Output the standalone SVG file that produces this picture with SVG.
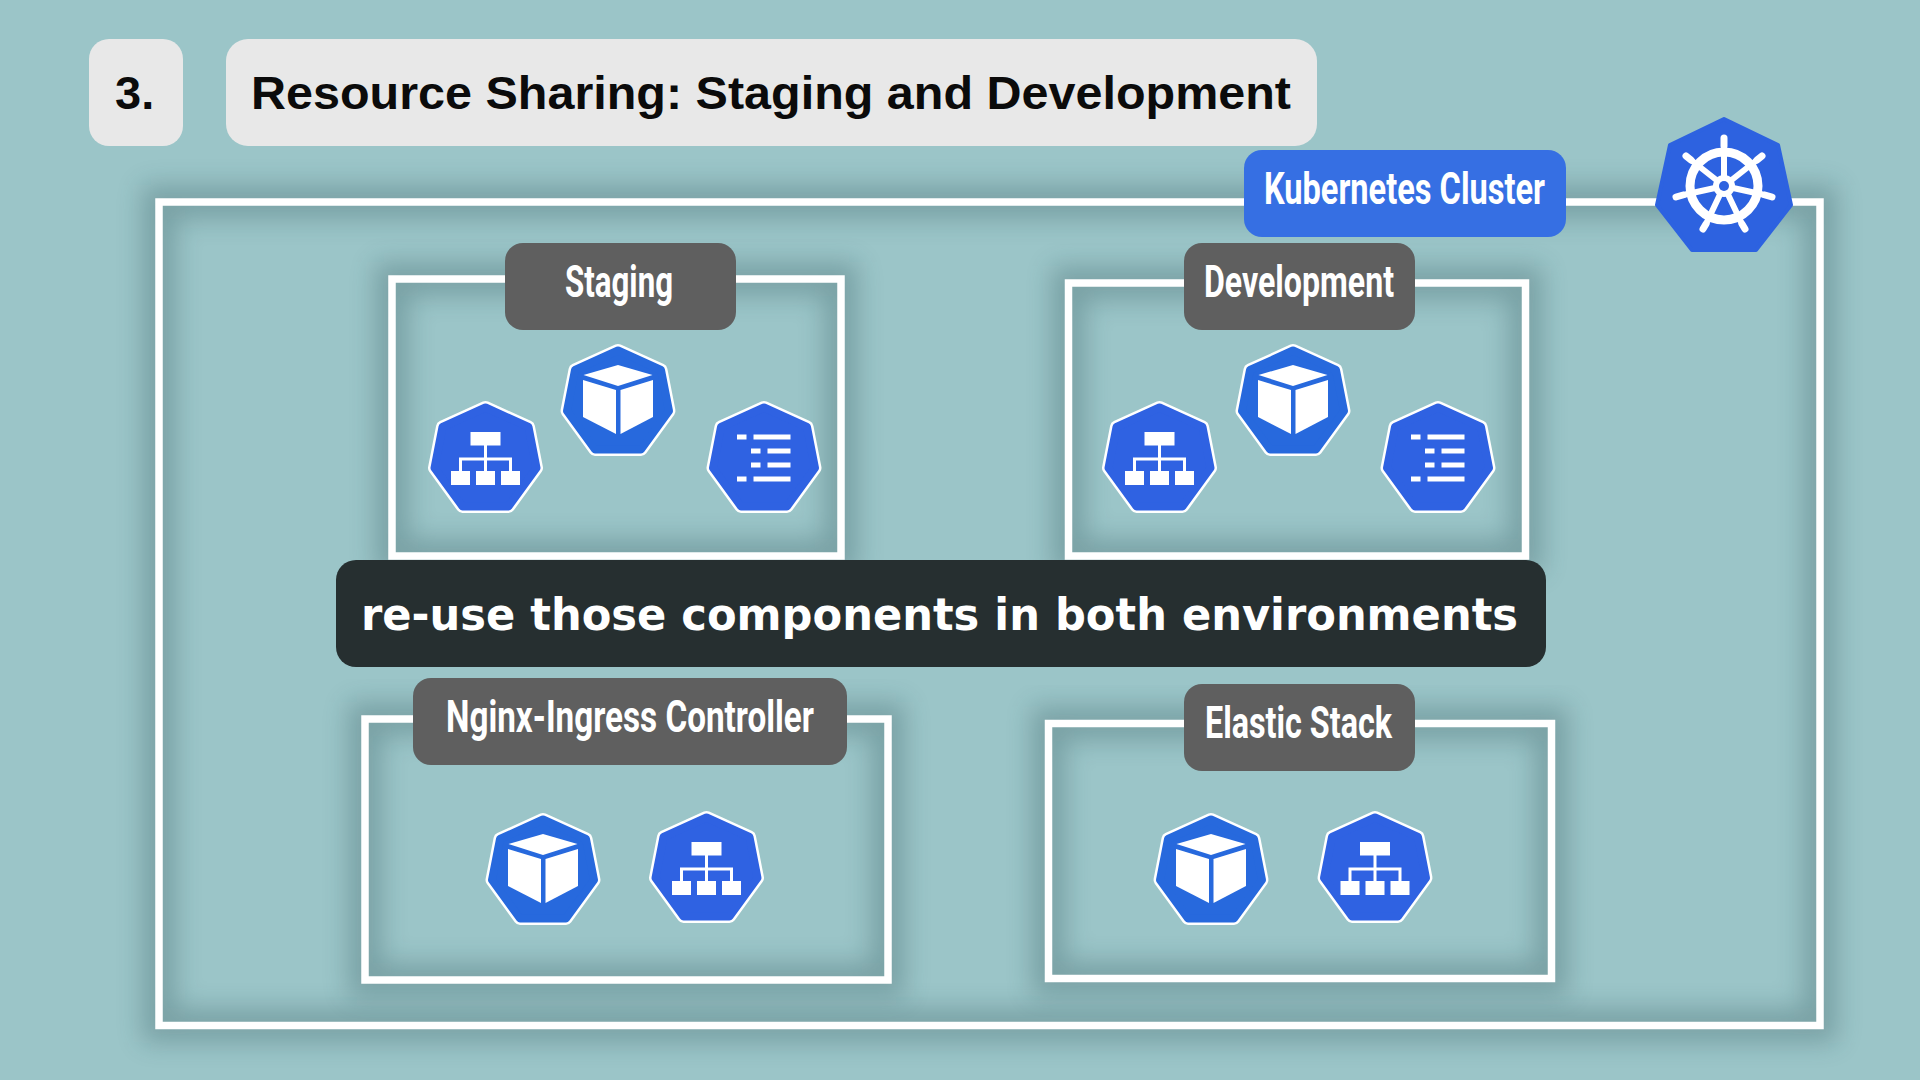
<svg xmlns="http://www.w3.org/2000/svg" width="1920" height="1080" viewBox="0 0 1920 1080">
<style>
.frame{fill:none;stroke:#fff;stroke-width:7.5}
.glow{fill:none;stroke:#16383d;stroke-width:34;opacity:.25;filter:url(#blur)}
.tag{fill:#5f5f5f}
.lbl{font-family:"Roboto","Liberation Sans",sans-serif;font-weight:700;font-size:45px;fill:#fff;text-anchor:start}
.head{font-family:"Liberation Sans",Arial,sans-serif;font-weight:700;font-size:47px;fill:#0b0b0b}
.w{fill:#fff}
.ring{stroke:#fff;stroke-width:13;stroke-linejoin:round;fill:#fff}
.core{stroke-width:8;stroke-linejoin:round}
</style>
<defs>
<filter id="blur" x="-15%" y="-15%" width="130%" height="130%"><feGaussianBlur stdDeviation="13"/></filter>
<polygon id="hept" points="0,6.500 43,26 51,67 23,105.500 -23,105.500 -51,67 -43,26"/>
<g id="cube">
<use href="#hept" class="ring"/>
<use href="#hept" class="core" fill="#2769dd" stroke="#2769dd"/>
<polygon class="w" points="0,21 34.500,31 0,42 -34.500,31"/>
<polygon class="w" points="-35,36 -2,46 -2,90 -35,73"/>
<polygon class="w" points="35,36 2.500,46 2.500,90 35,73"/>
</g>
<g id="svc">
<use href="#hept" class="ring"/>
<use href="#hept" class="core" fill="#2f62e2" stroke="#2f62e2"/>
<rect class="w" x="-15" y="31" width="30" height="13.500"/>
<rect class="w" x="-1.500" y="44" width="3" height="27"/>
<path d="M-25,70V58H25V70" fill="none" stroke="#fff" stroke-width="3"/>
<rect class="w" x="-34.500" y="70" width="19" height="14"/>
<rect class="w" x="-9.500" y="70" width="19" height="14"/>
<rect class="w" x="15.500" y="70" width="19" height="14"/>
</g>
<g id="lst">
<use href="#hept" class="ring"/>
<use href="#hept" class="core" fill="#2f62e2" stroke="#2f62e2"/>
<rect class="w" x="-27" y="33.500" width="9.500" height="5"/><rect class="w" x="-10.500" y="33.500" width="37" height="5"/>
<rect class="w" x="-13" y="47.500" width="9.500" height="5"/><rect class="w" x="3.500" y="47.500" width="23" height="5"/>
<rect class="w" x="-13" y="61.500" width="9.500" height="5"/><rect class="w" x="3.500" y="61.500" width="23" height="5"/>
<rect class="w" x="-27" y="75.500" width="9.500" height="5"/><rect class="w" x="-10.500" y="75.500" width="37" height="5"/>
</g>
</defs>
<rect width="1920" height="1080" fill="#9bc5c8"/>

<g id="cluster">
<rect class="glow" x="159" y="202" width="1661" height="823.500"/>
<rect class="frame" x="159" y="202" width="1661" height="823.500"/>
</g>

<g id="staging">
<rect class="glow" x="392" y="279" width="449" height="277"/>
<rect class="frame" x="392" y="279" width="449" height="277"/>
<rect class="tag" x="505" y="243" width="231" height="87" rx="18"/>
<text class="lbl" x="565" y="297" textLength="108" lengthAdjust="spacingAndGlyphs">Staging</text>
<use href="#svc" x="485.500" y="401"/>
<use href="#cube" x="618" y="344"/>
<use href="#lst" x="764" y="401"/>
</g>

<g id="development">
<rect class="glow" x="1068.500" y="283" width="457" height="273"/>
<rect class="frame" x="1068.500" y="283" width="457" height="273"/>
<rect class="tag" x="1184" y="243" width="231" height="87" rx="18"/>
<text class="lbl" x="1204" y="297" textLength="190" lengthAdjust="spacingAndGlyphs">Development</text>
<use href="#svc" x="1159.500" y="401"/>
<use href="#cube" x="1293" y="344"/>
<use href="#lst" x="1438" y="401"/>
</g>

<g id="nginx">
<rect class="glow" x="365" y="719" width="523" height="261"/>
<rect class="frame" x="365" y="719" width="523" height="261"/>
<rect class="tag" x="413" y="678" width="434" height="87" rx="18"/>
<text class="lbl" x="446" y="732" textLength="368" lengthAdjust="spacingAndGlyphs">Nginx-Ingress Controller</text>
<use href="#cube" x="543" y="813"/>
<use href="#svc" x="706.500" y="811"/>
</g>

<g id="elastic">
<rect class="glow" x="1048.500" y="723.500" width="503" height="255"/>
<rect class="frame" x="1048.500" y="723.500" width="503" height="255"/>
<rect class="tag" x="1184" y="684" width="231" height="87" rx="18"/>
<text class="lbl" x="1205" y="738" textLength="187" lengthAdjust="spacingAndGlyphs">Elastic Stack</text>
<use href="#cube" x="1211" y="813"/>
<use href="#svc" x="1375" y="811"/>
</g>

<g id="number">
<rect x="89" y="39" width="94" height="107" rx="20" fill="#e8e8e8"/>
<text class="head" x="115" y="109">3.</text>
</g>
<g id="title">
<rect x="226" y="39" width="1091" height="107" rx="22" fill="#e8e8e8"/>
<text class="head" x="251" y="109" textLength="1040" lengthAdjust="spacingAndGlyphs">Resource Sharing: Staging and Development</text>
</g>

<g id="k8s-tag">
<rect x="1244" y="150" width="322" height="87" rx="18" fill="#366fe3"/>
<text class="lbl" x="1264" y="204" textLength="281" lengthAdjust="spacingAndGlyphs">Kubernetes Cluster</text>
</g>

<g id="k8s-logo">
<polygon points="1724,119 1778,145 1791,205 1756,250 1692,250 1657,205 1670,145" fill="#2d62e0" stroke="#2d62e0" stroke-width="4" stroke-linejoin="round"/>
<circle cx="1724" cy="186" r="34" fill="none" stroke="#fff" stroke-width="9"/>
<g stroke="#fff" stroke-linecap="round" stroke-width="6" fill="none">
<path d="M1724,186V144"/><path d="M1724,186L1757,160"/><path d="M1724,186L1765,195"/><path d="M1724,186L1742,224"/><path d="M1724,186L1706,224"/><path d="M1724,186L1683,195"/><path d="M1724,186L1691,160"/>
</g>
<g stroke="#fff" stroke-linecap="round" stroke-width="7" fill="none">
<path d="M1724,146V138"/><path d="M1757,160L1762,156"/><path d="M1765,195L1772,197"/><path d="M1742,224L1745,229"/><path d="M1706,224L1703,229"/><path d="M1683,195L1676,197"/><path d="M1691,160L1686,156"/>
</g>
<circle cx="1724" cy="186" r="11" fill="#fff"/>
<circle cx="1724" cy="186" r="5" fill="#2d62e0"/>
</g>

<g id="banner">
<rect x="336" y="560" width="1210" height="107" rx="20" fill="#262f30"/>
<text x="361" y="630" font-family="'DejaVu Sans',sans-serif" font-weight="700" font-size="44" fill="#fff" textLength="1157" lengthAdjust="spacingAndGlyphs">re-use those components in both environments</text>
</g>
</svg>
